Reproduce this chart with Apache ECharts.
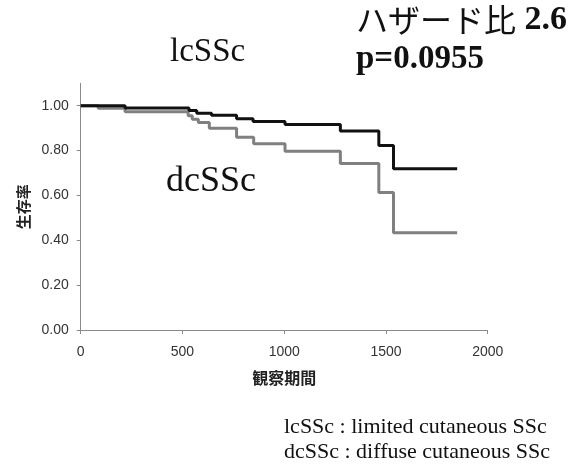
<!DOCTYPE html>
<html>
<head>
<meta charset="utf-8">
<script src="https://cdn.jsdelivr.net/npm/echarts@6/dist/echarts.min.js"></script>
<style>
  html, body { margin: 0; padding: 0; background: #fff; }
  #chart { width: 580px; height: 464px; }
</style>
</head>
<body>
<div id="chart"></div>
<script>
// Kaplan–Meier survival by subtype: each entry is (day, survival from that day on)
const lcDays = [0, 218, 532, 570, 643, 766, 847, 1004, 1276, 1465, 1537, 1850];
const lcSurv = [1.000, 0.990, 0.979, 0.967, 0.957, 0.942, 0.930, 0.916, 0.887, 0.823, 0.719, 0.719];

const dcDays = [0, 86, 218, 528, 548, 578, 632, 766, 850, 1004, 1276, 1465, 1537, 1850];
const dcSurv = [1.000, 0.989, 0.973, 0.955, 0.940, 0.925, 0.900, 0.860, 0.831, 0.797, 0.742, 0.613, 0.434, 0.434];

const yTicks = [0, 0.2, 0.4, 0.6, 0.8, 1.0];
const xTicks = [0, 500, 1000, 1500, 2000];

const pairs = (xs, ys) => xs.map((x, i) => [x, ys[i]]);

const serif = '"Liberation Serif", "Times New Roman", serif';
const sans = '"Liberation Sans", Arial, sans-serif';
const cjk = '"Noto Sans CJK JP", sans-serif';

const chart = echarts.init(document.getElementById('chart'), null, { renderer: 'canvas' });

const label = (text, x, y, font, extra) => ({
  type: 'text', x, y,
  style: Object.assign({ text, font, fill: '#111', textAlign: 'left', textVerticalAlign: 'middle' }, extra || {})
});

chart.setOption({
  animation: false,
  backgroundColor: '#ffffff',
  grid: { left: 80.7, right: 92.3, top: 83.3, bottom: 134, containLabel: false },
  xAxis: {
    type: 'value',
    min: 0, max: 2000, interval: 500,
    name: '観察期間',
    nameLocation: 'middle',
    nameGap: 40,
    nameTextStyle: { fontFamily: cjk, fontWeight: 'bold', fontSize: 16, color: '#222' },
    axisLine: { show: true, lineStyle: { color: '#8a8a8a', width: 1 } },
    axisTick: { show: true, length: 4, lineStyle: { color: '#8a8a8a' }, customValues: xTicks },
    axisLabel: {
      fontFamily: sans, fontSize: 14, color: '#333', margin: 15,
      customValues: xTicks,
      formatter: v => String(v)
    },
    splitLine: { show: false }
  },
  yAxis: {
    type: 'value',
    min: 0, max: 1.1,
    name: '生存率',
    nameLocation: 'middle',
    nameGap: 49,
    nameRotate: 90,
    nameTextStyle: { fontFamily: cjk, fontWeight: 'bold', fontSize: 15, color: '#222' },
    axisLine: { show: true, lineStyle: { color: '#8a8a8a', width: 1 } },
    axisTick: { show: true, length: 4, lineStyle: { color: '#8a8a8a' }, customValues: yTicks },
    axisLabel: {
      fontFamily: sans, fontSize: 14, color: '#333', margin: 12,
      customValues: yTicks,
      formatter: v => v.toFixed(2)
    },
    splitLine: { show: false }
  },
  series: [
    {
      name: 'dcSSc',
      type: 'line',
      step: 'end',
      symbol: 'none',
      data: pairs(dcDays, dcSurv),
      lineStyle: { color: '#808080', width: 3 },
      z: 2
    },
    {
      name: 'lcSSc',
      type: 'line',
      step: 'end',
      symbol: 'none',
      data: pairs(lcDays, lcSurv),
      lineStyle: { color: '#111111', width: 3 },
      z: 3
    }
  ],
  graphic: [
    label('lcSSc', 170, 52, '33px ' + serif),
    label('dcSSc', 166, 182, '36px ' + serif),
    {
      type: 'text', x: 356, y: 20,
      style: {
        text: '{a|ハザード比}{b| 2.6}',
        textAlign: 'left', textVerticalAlign: 'middle',
        rich: {
          a: { fontFamily: cjk, fontSize: 32, fontWeight: 'normal', fill: '#111' },
          b: { fontFamily: serif, fontSize: 34, fontWeight: 'bold', fill: '#111' }
        }
      }
    },
    label('p=0.0955', 356, 59, 'bold 33px ' + serif),
    label('lcSSc : limited cutaneous SSc', 284, 427, '22px ' + serif),
    label('dcSSc : diffuse cutaneous SSc', 284, 452, '22px ' + serif)
  ]
});
</script>
</body>
</html>
